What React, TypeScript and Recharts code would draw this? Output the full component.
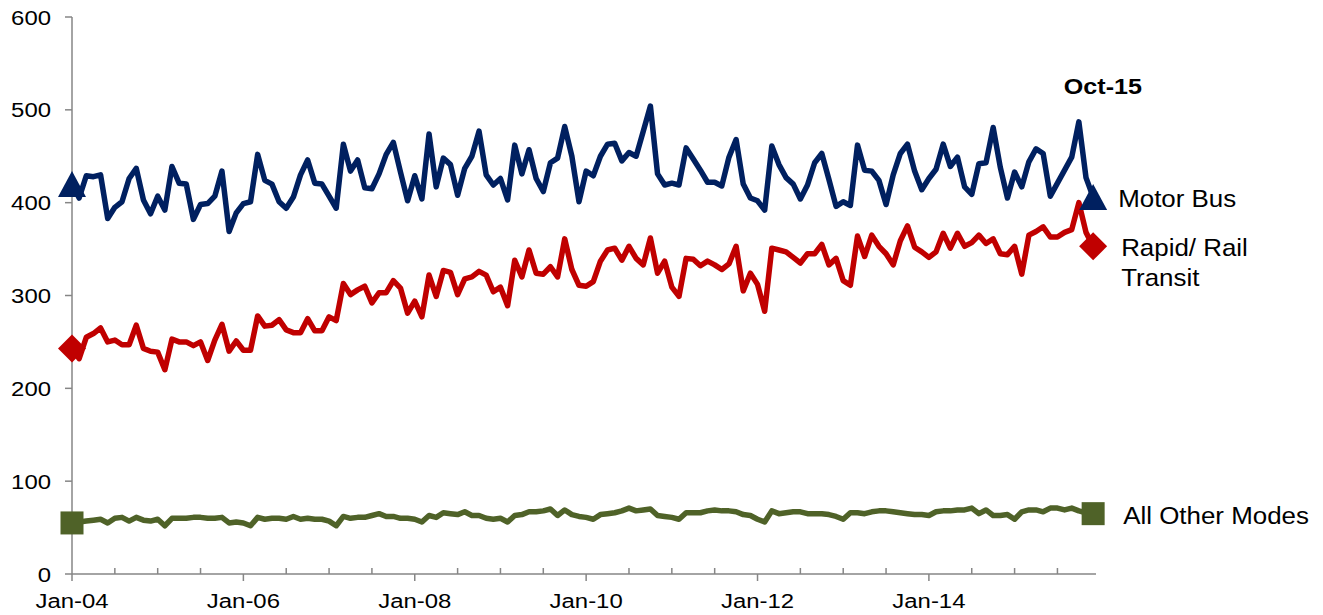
import React from 'react';
import { LineChart, Line, XAxis, YAxis } from 'recharts';

const MONTHS = ['Jan', 'Feb', 'Mar', 'Apr', 'May', 'Jun', 'Jul', 'Aug', 'Sep', 'Oct', 'Nov', 'Dec'];

// monthly ridership, Jan-04 .. Dec-15 (last point is the end marker)
const MOTOR_BUS = [
  420, 405, 429, 428, 430, 383, 395, 401, 426, 437, 403, 388,
  407, 392, 439, 421, 420, 382, 398, 399, 407, 434, 369, 389,
  399, 401, 452, 424, 420, 401, 394, 406, 430, 446, 421, 420,
  407, 394, 463, 434, 446, 416, 415, 431, 452, 465, 433, 402,
  429, 404, 474, 417, 448, 441, 408, 437, 450, 477, 430, 419,
  426, 403, 462, 431, 457, 426, 412, 443, 448, 482, 450, 401,
  434, 429, 450, 463, 464, 445, 454, 450, 477, 504, 431, 419,
  421, 419, 459, 447, 435, 422, 422, 418, 449, 468, 420, 405,
  402, 392, 461, 441, 427, 420, 404, 419, 443, 453, 425, 396,
  401, 397, 462, 435, 434, 424, 398, 430, 453, 463, 434, 414,
  426, 436, 463, 439, 449, 417, 409, 442, 443, 481, 438, 405,
  433, 417, 444, 458, 453, 407, 421, 435, 449, 487, 427, 406,
];

const RAPID_RAIL = [
  243, 232, 255, 259, 265, 250, 252, 247, 247, 268, 243, 240,
  239, 220, 253, 250, 250, 246, 250, 230, 252, 269, 240, 251,
  241, 241, 278, 267, 268, 274, 263, 260, 260, 275, 262, 262,
  277, 273, 313, 301, 306, 310, 292, 303, 303, 316, 308, 281,
  294, 277, 322, 299, 327, 325, 301, 318, 320, 326, 322, 304,
  309, 289, 338, 320, 349, 324, 323, 331, 320, 361, 328, 311,
  310, 315, 337, 349, 351, 338, 353, 340, 333, 362, 324, 337,
  309, 299, 340, 339, 332, 337, 333, 328, 334, 353, 305, 324,
  312, 283, 351, 349, 347, 341, 335, 345, 345, 355, 333, 340,
  316, 311, 364, 342, 365, 353, 345, 333, 359, 375, 352, 347,
  341, 347, 367, 351, 367, 353, 357, 365, 356, 361, 345, 344,
  353, 323, 365, 369, 374, 363, 363, 368, 371, 400, 368, 353,
];

const OTHER_MODES = [
  55, 56, 57, 58, 59, 55, 60, 61, 57, 61, 58, 57,
  59, 52, 60, 60, 60, 61, 61, 60, 60, 61, 55, 56,
  55, 52, 61, 59, 60, 60, 59, 62, 59, 60, 59, 59,
  57, 52, 62, 60, 61, 61, 63, 65, 62, 62, 60, 60,
  59, 56, 63, 61, 66, 65, 64, 67, 63, 63, 60, 59,
  60, 56, 63, 64, 67, 67, 68, 70, 63, 69, 64, 62,
  61, 59, 64, 65, 66, 68, 71, 68, 69, 70, 63, 62,
  61, 59, 66, 66, 66, 68, 69, 68, 68, 67, 64, 63,
  59, 56, 68, 65, 66, 67, 67, 65, 65, 65, 64, 62,
  59, 66, 66, 65, 67, 68, 68, 67, 66, 65, 64, 64,
  63, 67, 68, 68, 69, 69, 71, 65, 69, 63, 63, 64,
  59, 67, 69, 69, 67, 71, 71, 69, 71, 68, 66, 65,
];

const X_TICKS = [0, 6, 12, 18, 24, 30, 36, 42, 48, 54, 60, 66, 72, 78, 84, 90, 96, 102, 108, 114, 120, 126, 132, 138];
const Y_TICKS = [0, 100, 200, 300, 400, 500, 600];

const AXIS = '#868686';
const BUS_COLOR = '#002060';
const RAIL_COLOR = '#C00000';
const OTHER_COLOR = '#4F6228';
const FONT = '"Liberation Sans", Arial, sans-serif';
const LINE_W = 5.5;

const LAST = MOTOR_BUS.length - 1;
const PEAK = 141; // Oct-15

const data = MOTOR_BUS.map((bus, i) => ({ i, bus, rail: RAPID_RAIL[i], other: OTHER_MODES[i] }));

const monthLabel = (i: number) => `${MONTHS[i % 12]}-${String(4 + Math.floor(i / 12)).padStart(2, '0')}`;

// text is a bit wider than plain Arial in the source, so stretch it horizontally
const Txt = ({ x, y, anchor = 'start', size, sx = 1.12, bold = false, children }: any) => (
  <text
    transform={`translate(${x},${y}) scale(${sx},1)`}
    textAnchor={anchor}
    fontSize={size}
    fontWeight={bold ? 'bold' : 'normal'}
    fontFamily={FONT}
    fill="#000"
  >
    {children}
  </text>
);

const XTick = ({ x, y, payload }: any) => {
  const v = payload.value;
  const major = v % 24 === 0;
  return (
    <g>
      <line x1={x} x2={x} y1={y} y2={major ? y + 7 : y - 6} stroke={AXIS} strokeWidth={1.5} />
      {major && <Txt x={x} y={y + 34} anchor="middle" size={21} sx={1.14}>{monthLabel(v)}</Txt>}
    </g>
  );
};

const YTick = ({ x, y, payload }: any) => (
  <g>
    <line x1={x - 7} x2={x} y1={y} y2={y} stroke={AXIS} strokeWidth={1.5} />
    <Txt x={x - 21} y={y + 7.5} anchor="end" size={21} sx={1.14}>{payload.value}</Txt>
  </g>
);

const busDot = (p: any) => {
  const { cx, cy, index } = p;
  if (index === 0 || index === LAST) {
    return (
      <g key={`b${index}`}>
        <polygon points={`${cx},${cy - 13} ${cx + 14},${cy + 13} ${cx - 14},${cy + 13}`} fill={BUS_COLOR} />
        {index === LAST && <Txt x={cx + 25} y={cy + 10} size={24} sx={1.08}>Motor Bus</Txt>}
      </g>
    );
  }
  if (index === PEAK) {
    return (
      <g key={`b${index}`}>
        <Txt x={cx + 24} y={cy - 28} anchor="middle" size={22} sx={1.14} bold>Oct-15</Txt>
      </g>
    );
  }
  return <g key={`b${index}`} />;
};

const railDot = (p: any) => {
  const { cx, cy, index } = p;
  if (index !== 0 && index !== LAST) return <g key={`r${index}`} />;
  return (
    <g key={`r${index}`}>
      <polygon points={`${cx},${cy - 14} ${cx + 14},${cy} ${cx},${cy + 14} ${cx - 14},${cy}`} fill={RAIL_COLOR} />
      {index === LAST && (
        <>
          <Txt x={cx + 28} y={cy + 10} size={24} sx={1.08}>Rapid/ Rail</Txt>
          <Txt x={cx + 28} y={cy + 40} size={24} sx={1.08}>Transit</Txt>
        </>
      )}
    </g>
  );
};

const otherDot = (p: any) => {
  const { cx, cy, index } = p;
  if (index !== 0 && index !== LAST) return <g key={`o${index}`} />;
  return (
    <g key={`o${index}`}>
      <rect x={cx - 11.5} y={cy - 11.5} width={23} height={23} fill={OTHER_COLOR} />
      {index === LAST && <Txt x={cx + 30} y={cy + 10} size={24} sx={1.08}>All Other Modes</Txt>}
    </g>
  );
};

export default function App() {
  // cancel the body margin so chart coordinates equal page coordinates
  return (
    <div style={{ margin: '-8px 0 0 -8px', width: 1323, height: 615 }}>
      <LineChart width={1323} height={615} data={data} margin={{ top: 17, right: 227, left: 0, bottom: 0 }}>
        <XAxis
          dataKey="i"
          type="number"
          domain={[0, 143.4]}
          ticks={X_TICKS}
          interval={0}
          height={41}
          tickSize={0}
          tickMargin={0}
          tickLine={false}
          axisLine={{ stroke: AXIS, strokeWidth: 1.5 }}
          tick={<XTick />}
        />
        <YAxis
          type="number"
          domain={[0, 600]}
          ticks={Y_TICKS}
          interval={0}
          width={72}
          tickSize={0}
          tickMargin={0}
          tickLine={false}
          axisLine={{ stroke: AXIS, strokeWidth: 1.5 }}
          tick={<YTick />}
        />
        <Line dataKey="other" stroke={OTHER_COLOR} strokeWidth={LINE_W} strokeLinejoin="round" dot={otherDot} activeDot={false} isAnimationActive={false} />
        <Line dataKey="rail" stroke={RAIL_COLOR} strokeWidth={LINE_W} strokeLinejoin="round" dot={railDot} activeDot={false} isAnimationActive={false} />
        <Line dataKey="bus" stroke={BUS_COLOR} strokeWidth={LINE_W} strokeLinejoin="round" dot={busDot} activeDot={false} isAnimationActive={false} />
      </LineChart>
    </div>
  );
}
